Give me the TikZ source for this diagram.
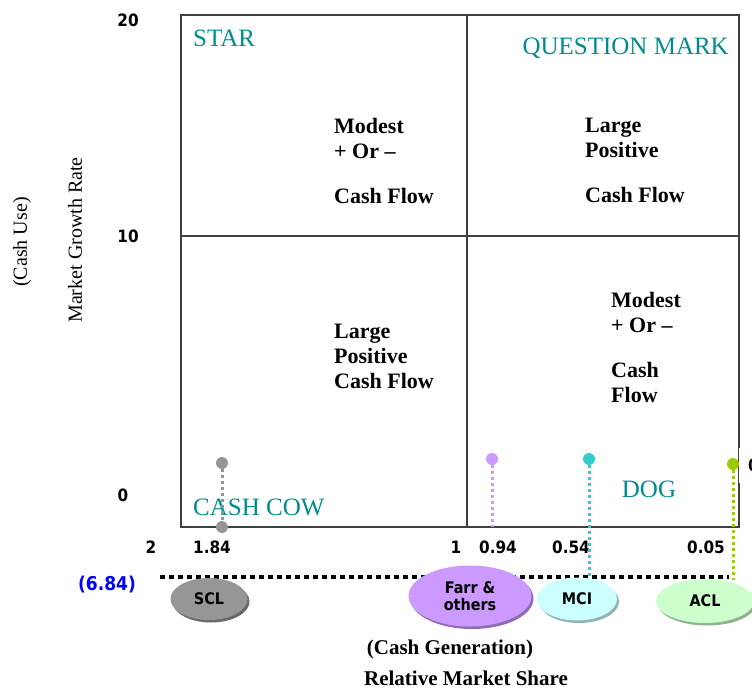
\documentclass[tikz,border=0pt]{standalone}
\usepackage{fontspec}
\setmainfont{Liberation Serif}
\newfontfamily\numfont[FakeStretch=0.9]{DejaVu Sans}
\usepackage{xcolor}
\usetikzlibrary{shapes.geometric,shadows}

\definecolor{quadteal}{RGB}{0,140,140}
\definecolor{sclgray}{RGB}{150,150,150}
\definecolor{farrpurple}{RGB}{204,153,255}
\definecolor{mcicyan}{RGB}{204,255,255}
\definecolor{aclgreen}{RGB}{204,255,204}
\definecolor{mcistem}{RGB}{51,204,204}
\definecolor{aclstem}{RGB}{153,204,0}
\definecolor{sharenum}{RGB}{0,0,255}

\begin{document}
\begin{tikzpicture}[x=1pt, y=-1pt,
    quadname/.style={text=quadteal, inner sep=0, font=\fontsize{25}{27}\selectfont},
    flowtext/.style={anchor=north west, align=left, inner sep=0, font=\bfseries\fontsize{22}{25}\selectfont},
    ticklabel/.style={inner sep=0, font=\numfont\bfseries\fontsize{17}{19}\selectfont},
    axislabel/.style={rotate=90, inner sep=0, font=\fontsize{20}{22}\selectfont},
    sharelabel/.style={inner sep=0, font=\bfseries\fontsize{21}{23}\selectfont},
    stemdot/.style={circle, fill=#1, inner sep=0, minimum size=12pt},
    stemline/.style={draw=#1, line width=3pt, dash pattern=on 3pt off 3pt},
    bubble/.style={ellipse, fill=#1, general shadow={fill=#1!70!black, shadow xshift=2pt, shadow yshift=-2.5pt},
        inner sep=0, align=center, font=\numfont\bfseries\fontsize{16}{17}\selectfont}]
    \useasboundingbox (0,0) rectangle (752,691);

    \draw[draw=black!75, line width=1.2pt] (181,15) rectangle (739,527);
    \draw[draw=black!75, line width=1.2pt] (467,15) -- (467,527);
    \draw[draw=black!75, line width=1.2pt] (181,236) -- (739,236);

    \node[quadname, anchor=west] (star) at (193,38) {STAR};
    \node[quadname, anchor=east] (question) at (729,48) {QUESTION MARK};
    \node[quadname, anchor=west] (cow) at (193,507) {CASH COW};
    \node[quadname] (dog) at (649,489) {DOG};

    \node[flowtext] (starflow) at (334,118) {Modest\\+ Or --\\[20pt]Cash Flow};
    \node[flowtext] (questionflow) at (585,118) {Large\\Positive\\[20pt]Cash Flow};
    \node[flowtext] (cowflow) at (334,324) {Large\\Positive\\Cash Flow};
    \node[flowtext] (dogflow) at (611,292) {Modest\\+ Or --\\[20pt]Cash\\Flow};

    \node[ticklabel] (g20) at (128,20) {20};
    \node[ticklabel] (g10) at (128,236) {10};
    \node[ticklabel] (g0) at (123,495) {0};
    \node[ticklabel] (s2) at (151,547) {2};
    \node[ticklabel] (s184) at (212,547) {1.84};
    \node[ticklabel] (s1) at (456,547) {1};
    \node[ticklabel] (s094) at (498,547) {0.94};
    \node[ticklabel] (s054) at (571,547) {0.54};
    \node[ticklabel] (s005) at (706,547) {0.05};
    \node[ticklabel, text=sharenum, font=\numfont\bfseries\fontsize{19}{21}\selectfont] (s684) at (107,585) {(6.84)};

    \node[axislabel] (growth) at (75,240) {Market Growth Rate};
    \node[axislabel] (cashuse) at (22,242) {(Cash Use)};
    \node[sharelabel] (cashgen) at (450,649) {(Cash Generation)};
    \node[sharelabel] (share) at (466,678) {Relative Market Share};

    \coordinate (genL) at (160,577);
    \coordinate (genR) at (729,577);
    \draw[line width=4pt, dash pattern=on 5pt off 4pt] (genL) -- (genR);

    \node[stemdot=sclgray] (sclTop) at (222,463) {};
    \node[stemdot=sclgray] (sclBase) at (222,527) {};
    \node[stemdot=farrpurple] (farrTop) at (492,459) {};
    \node[stemdot=mcistem] (mciTop) at (589,459) {};
    \node[stemdot=aclstem] (aclTop) at (733,464) {};
    \coordinate (farrEnd) at (492,527);
    \coordinate (mciEnd) at (589,576);
    \coordinate (aclEnd) at (733,580);
    \draw[stemline=sclgray] (sclTop) -- (sclBase);
    \draw[stemline=farrpurple] (farrTop) -- (farrEnd);
    \draw[stemline=mcistem] (mciTop) -- (mciEnd);
    \draw[stemline=aclstem] (aclTop) -- (aclEnd);
    \node[fill=white, anchor=west, inner sep=0, minimum height=35pt, minimum width=20pt] (aclVal) at (739,465) {};
    \node[ticklabel, anchor=west] (s001) at (748,465) {0};

    \node[bubble=sclgray, minimum width=77pt, minimum height=42pt] (scl) at (209,599) {SCL};
    \node[bubble=farrpurple, minimum width=123pt, minimum height=61pt] (farr) at (470,596) {Farr \&\\others};
    \node[bubble=mcicyan, minimum width=80pt, minimum height=43pt] (mci) at (577,599) {MCI};
    \node[bubble=aclgreen, minimum width=98pt, minimum height=44pt] (acl) at (705,601) {ACL};
\end{tikzpicture}
\end{document}
